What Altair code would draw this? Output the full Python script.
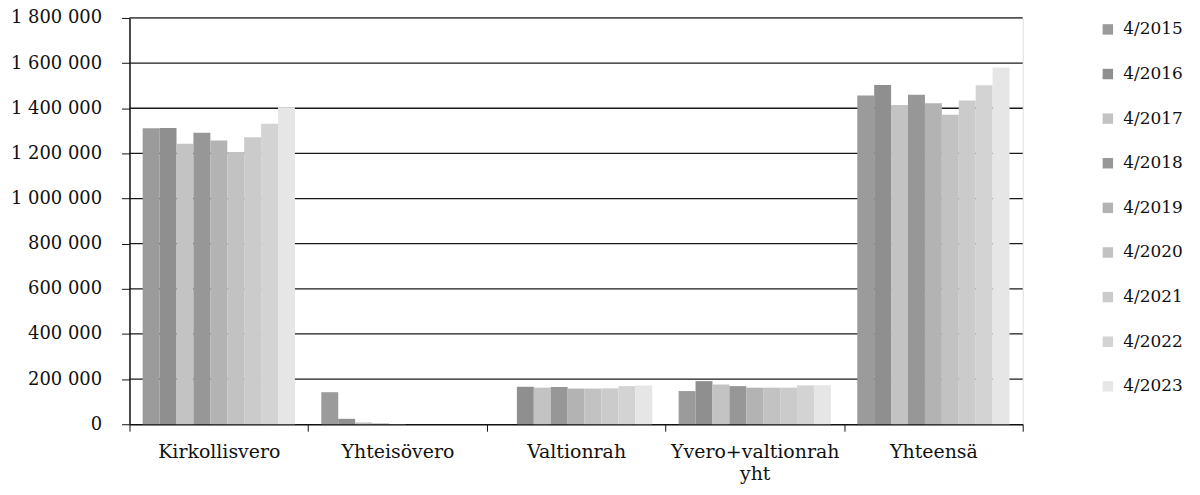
import altair as alt
import pandas as pd

categories = ["Kirkollisvero", "Yhteisövero", "Valtionrah", "Yvero+valtionrah yht", "Yhteensä"]
years = ["4/2015", "4/2016", "4/2017", "4/2018", "4/2019", "4/2020", "4/2021", "4/2022", "4/2023"]
kirkollisvero = [1311000, 1312000, 1243000, 1291000, 1257000, 1206000, 1272000, 1331000, 1404000]
yhteisovero = [142000, 24000, 8000, 3000, 1000, 0, 0, 0, 0]
valtionrah = [0, 166000, 162000, 165000, 158000, 158000, 159000, 169000, 172000]
yvero_valtionrah = [147000, 191000, 176000, 169000, 162000, 162000, 162000, 172000, 173000]
yhteensa = [1456000, 1503000, 1414000, 1460000, 1422000, 1371000, 1434000, 1502000, 1580000]
colors = ["#9b9b9b", "#8f8f8f", "#c3c3c3", "#979797", "#b3b3b3", "#c2c2c2", "#cbcbcb", "#d3d3d3", "#e6e6e6"]

series = [kirkollisvero, yhteisovero, valtionrah, yvero_valtionrah, yhteensa]
rows = []
for cat, vals in zip(categories, series):
    for yr, v in zip(years, vals):
        rows.append({"cat": cat, "year": yr, "value": v})
df = pd.DataFrame(rows)

FONT = "DejaVu Serif"

base = alt.Chart(df)

grid = alt.Chart(pd.DataFrame({"v": [200000 * i for i in range(1, 10)]})).mark_rule(
    color="#1a1a1a", strokeWidth=1.3
).encode(
    y=alt.Y("v:Q", scale=alt.Scale(domain=[0, 1800000])),
    x=alt.value(0), x2=alt.value(897),
)

bars = base.mark_bar(size=17).encode(
    x=alt.X("cat:N", sort=categories, title=None,
            scale=alt.Scale(paddingInner=0, paddingOuter=0),
            axis=alt.Axis(labelAngle=0, tickBand="extent", tickSize=7, tickColor="#111",
                          domainColor="#111", domainWidth=1.5, labelFont=FONT, labelFontSize=19,
                          labelColor="#111", labelPadding=11, labelLineHeight=22,
                          labelExpr="datum.value == 'Yvero+valtionrah yht' ? ['Yvero+valtionrah', 'yht'] : datum.label")),
    xOffset=alt.XOffset("year:N", sort=years, scale=alt.Scale(paddingInner=0, paddingOuter=0.78)),
    y=alt.Y("value:Q", title=None, scale=alt.Scale(domain=[0, 1800000]),
            axis=alt.Axis(values=[200000 * i for i in range(10)], format=",d", grid=False,
                          tickSize=8, tickColor="#111", domainColor="#111", domainWidth=1.5,
                          labelFont=FONT, labelFontSize=18, labelColor="#111", labelPadding=20)),
    color=alt.Color("year:N", sort=years, scale=alt.Scale(domain=years, range=colors),
                    legend=alt.Legend(title=None, orient="none", legendX=974, legendY=3,
                                      symbolType="square", symbolSize=110, symbolStrokeWidth=0,
                                      labelFont=FONT, labelFontSize=17, labelColor="#111",
                                      rowPadding=26.8, labelOffset=7)),
)

chart = alt.layer(grid, bars).properties(
    width=897, height=408,
    autosize=alt.AutoSizeParams(type="none"),
    padding={"left": 122, "top": 9, "right": 170, "bottom": 60},
).configure_view(stroke=None).configure(
    locale={"number": {"decimal": ",", "thousands": "\u00a0", "grouping": [3], "currency": ["", " €"]}}
)

chart.save("out.html", embed_options={"renderer": "svg", "actions": False})
